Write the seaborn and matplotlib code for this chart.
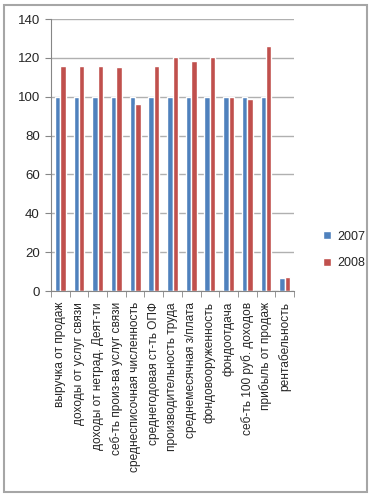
import pandas as pd
import seaborn as sns
import matplotlib.pyplot as plt
from matplotlib.patches import Rectangle

# data
categories = ['выручка от продаж', 'доходы от услуг связи', 'доходы от нетрад. Деят-ти',
              'себ-ть произ-ва услуг связи', 'среднесписочная численность',
              'среднегодовая ст-ть ОПФ', 'производительность труда',
              'среднемесячная з/плата', 'фондовооруженность', 'фондоотдача',
              'себ-ть 100 руб. доходов', 'прибыль от продаж', 'рентабельность']
values_2007 = [100, 100, 100, 100, 100, 100, 100, 100, 100, 100, 100, 100, 6.7]
values_2008 = [115.7, 115.7, 115.7, 115.2, 96.2, 115.7, 120.4, 118.2, 120.3, 100, 98.7, 126, 7.4]
years = ['2007', '2008']

df = pd.DataFrame({
    'cat': categories * 2,
    'year': [years[0]] * len(categories) + [years[1]] * len(categories),
    'value': values_2007 + values_2008,
})

sns.set_style('white')
plt.rcParams['font.family'] = ['Liberation Sans', 'DejaVu Sans']

fig = plt.figure(figsize=(3.73, 4.97), dpi=100)
ax = fig.add_axes([51 / 373, 1 - 291 / 497, 243 / 373, 272 / 497])

sns.barplot(data=df, x='cat', y='value', hue='year', order=categories,
            palette=['#4F81BD', '#C0504D'], width=0.58, ax=ax, saturation=1)

ax.set_ylim(0, 140)
ax.set_xlim(-0.5, len(categories) - 0.5)
ax.set_yticks(range(0, 141, 20))
ax.yaxis.grid(True, color='#B0B0B0', linewidth=1, linestyle='-')
ax.set_axisbelow(True)
for s in ['top', 'right']:
    ax.spines[s].set_visible(False)
ax.spines['left'].set_color('#868686')
ax.spines['bottom'].set_color('#868686')

ax.set_xticks(range(len(categories)))
ax.set_xticklabels(categories, rotation=90, fontsize=8.6, va='top')
ax.tick_params(axis='x', length=0, pad=8)
ax.set_xticks([i - 0.5 for i in range(len(categories) + 1)], minor=True)
ax.tick_params(axis='x', which='minor', length=4, color='#868686', bottom=True)
ax.tick_params(axis='y', length=4, color='#868686', left=True, labelsize=9.5, pad=4)
ax.set_xlabel('')
ax.set_ylabel('')

ax.legend(loc='center left', bbox_to_anchor=(312 / 373, 1 - 250 / 497),
          bbox_transform=fig.transFigure, frameon=False, fontsize=9,
          handlelength=0.6, handleheight=0.6, labelspacing=1.2, handletextpad=0.5)

fig.patches.append(Rectangle((4 / 373, 5 / 497), 363 / 373, 487 / 497,
                             transform=fig.transFigure, fill=False,
                             edgecolor='#A6A6A6', linewidth=1.5))

fig.savefig('out.png', dpi=100)
